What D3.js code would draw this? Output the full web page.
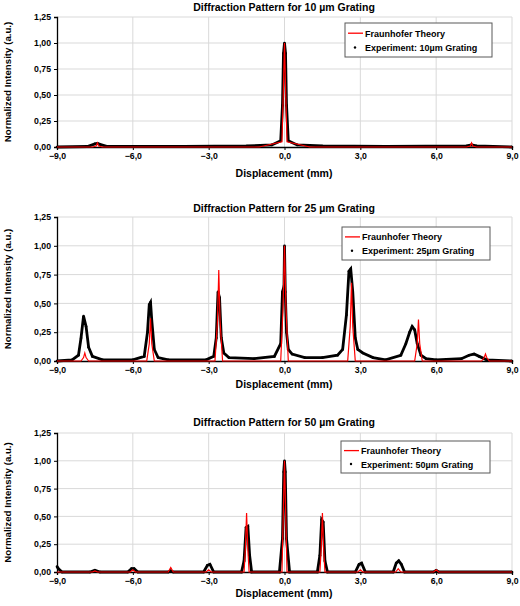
<!DOCTYPE html>
<html><head><meta charset="utf-8">
<script src="https://cdn.jsdelivr.net/npm/d3@7"></script>
<style>body{margin:0;background:#fff}text{font-family:"Liberation Sans",Arial,sans-serif;font-weight:bold}</style>
</head><body><svg id="c" width="520" height="606"></svg>
<script>
const xTicks=[-9,-6,-3,0,3,6,9];
const yTicks=[0,0.25,0.5,0.75,1,1.25];
const titles=["Diffraction Pattern for 10 µm Grating","Diffraction Pattern for 25 µm Grating","Diffraction Pattern for 50 µm Grating"];
const expLabels=["Experiment: 10µm Grating","Experiment: 25µm Grating","Experiment: 50µm Grating"];

const theory10X=[-9,-7.6,-7.45,-7.4,-7.35,-7.2,-1,-0.1,-0.05,0,0.05,0.1,1,7.2,7.35,7.4,7.45,7.6,9];
const theory10Y=[0,0,0.01,0.04,0.01,0,0,0.05,0.5,1,0.5,0.05,0,0,0.01,0.04,0.01,0,0];
const exp10X=[-9,-7.8,-7.5,-7.4,-7.3,-7,-4,-1.5,-0.5,-0.15,-0.08,-0.04,0,0.04,0.08,0.15,0.5,1.5,4,7.2,7.4,7.6,9];
const exp10Y=[0,0.005,0.03,0.035,0.025,0.005,0.005,0.01,0.02,0.06,0.4,0.9,1,0.9,0.4,0.06,0.02,0.01,0.005,0.01,0.02,0.01,0];

const theory25X=[-9,-8.05,-7.95,-7.9,-7.85,-7.75,-5.45,-5.35,-5.3,-5.25,-5.15,-2.75,-2.65,-2.6,-2.55,-2.45,-0.15,-0.06,0,0.06,0.15,2.5,2.6,2.65,2.7,2.8,5.15,5.25,5.3,5.35,5.45,7.8,7.9,7.95,8,8.1,9];
const theory25Y=[0,0,0.03,0.07,0.03,0,0,0.15,0.37,0.15,0,0,0.35,0.79,0.35,0,0,0.45,1,0.45,0,0,0.3,0.68,0.3,0,0,0.15,0.36,0.15,0,0,0.03,0.06,0.03,0,0];
const exp25X=[-9,-8.4,-8.15,-8.05,-7.95,-7.85,-7.75,-7.6,-7.2,-6,-5.55,-5.42,-5.35,-5.3,-5.25,-5.15,-5,-4.6,-3.1,-2.8,-2.7,-2.63,-2.57,-2.5,-2.4,-2.2,-1.2,-0.4,-0.15,-0.08,-0.02,0,0.03,0.08,0.15,0.3,0.8,1.5,2.1,2.3,2.45,2.55,2.62,2.7,2.8,2.9,3.1,3.5,4,4.6,4.8,4.95,5.05,5.15,5.25,5.4,5.6,6,7,7.3,7.5,7.7,8,9];
const exp25Y=[0,0.01,0.05,0.2,0.39,0.3,0.12,0.04,0.01,0.01,0.04,0.25,0.49,0.51,0.35,0.1,0.03,0.01,0.01,0.04,0.2,0.6,0.55,0.2,0.07,0.03,0.02,0.04,0.15,0.6,0.65,1,0.6,0.25,0.1,0.06,0.03,0.03,0.05,0.1,0.4,0.78,0.8,0.6,0.2,0.1,0.07,0.03,0.01,0.05,0.15,0.25,0.3,0.27,0.15,0.05,0.02,0.01,0.02,0.05,0.06,0.04,0.01,0];

const theory50X=[-9,-7.6,-7.5,-7.4,-6.1,-6,-5.9,-4.6,-4.5,-4.4,-3.1,-3,-2.9,-1.6,-1.55,-1.5,-1.45,-1.4,-0.1,-0.05,0,0.05,0.1,1.4,1.45,1.5,1.55,1.6,2.9,3,3.1,4.4,4.5,4.6,5.9,6,6.1,9];
const theory50Y=[0,0,0.01,0,0,0.02,0,0,0.04,0,0,0.02,0,0,0.2,0.53,0.2,0,0,0.5,1,0.5,0,0,0.2,0.53,0.2,0,0,0.02,0,0,0.03,0,0,0.02,0,0];
const exp50X=[-9,-8.95,-8.8,-7.7,-7.5,-7.3,-6.2,-6.05,-5.95,-5.8,-4.6,-4.5,-4.4,-3.2,-3.05,-2.95,-2.8,-1.7,-1.6,-1.52,-1.45,-1.38,-1.3,-0.2,-0.08,-0.03,0,0.03,0.08,0.2,1.3,1.4,1.47,1.53,1.6,1.7,2.8,2.95,3.05,3.2,4.3,4.42,4.52,4.62,4.75,5.9,6,6.1,9];
const exp50Y=[0.05,0.03,0,0,0.015,0,0,0.03,0.03,0,0,0.01,0,0,0.06,0.07,0,0,0.1,0.4,0.41,0.15,0,0,0.3,0.9,1,0.9,0.3,0,0,0.15,0.47,0.45,0.1,0,0,0.07,0.08,0,0,0.08,0.1,0.07,0,0,0.015,0,0];

const charts=[
 {tx:theory10X,ty:theory10Y,ex:exp10X,ey:exp10Y,top:17,bot:147,title:6,xl:173,leg:[345,23,147,34]},
 {tx:theory25X,ty:theory25Y,ex:exp25X,ey:exp25Y,top:217,bot:361,title:207,xl:384,leg:[342,227,148,33]},
 {tx:theory50X,ty:theory50Y,ex:exp50X,ey:exp50Y,top:433,bot:572,title:421,xl:593,leg:[341,441,149,32]}
];
const svg=d3.select("#c");
const fmtX=d=>(d<0?"\u2212":"")+Math.abs(d).toFixed(1).replace(".",",");
const fmtY=d=>d.toFixed(2).replace(".",",");
charts.forEach((c,i)=>{
 const x=d3.scaleLinear().domain([-9,9]).range([57,512]);
 const y=d3.scaleLinear().domain([0,1.25]).range([c.bot,c.top]);
 const g=svg.append("g");
 g.selectAll(".vg").data(xTicks.slice(1)).join("line").attr("x1",d=>x(d)).attr("x2",d=>x(d)).attr("y1",c.top).attr("y2",c.bot).attr("stroke","#d9d9d9");
 g.selectAll(".hg").data(yTicks.slice(1)).join("line").attr("x1",57).attr("x2",512).attr("y1",d=>y(d)).attr("y2",d=>y(d)).attr("stroke","#d9d9d9");
 const xa=g.append("g").attr("transform",`translate(0,${c.bot})`).call(d3.axisBottom(x).tickValues(xTicks).tickFormat(fmtX).tickSize(3));
 const ya=g.append("g").attr("transform","translate(57,0)").call(d3.axisLeft(y).tickValues(yTicks).tickFormat(fmtY).tickSize(3));
 [xa,ya].forEach(a=>{a.selectAll("text").attr("font-size",8.7).attr("fill","#000");a.select(".domain").attr("stroke","#000").attr("stroke-width",1.3);a.selectAll(".tick line").attr("stroke","#000");});
 const ln=(xs,ys)=>d3.line().x(j=>x(xs[j])).y(j=>y(ys[j]))(d3.range(xs.length));
 g.append("path").attr("d",ln(c.ex,c.ey)).attr("fill","none").attr("stroke","#000").attr("stroke-width",2.8);
 g.selectAll(".dot").data(d3.range(c.ex.length)).join("circle").attr("cx",j=>x(c.ex[j])).attr("cy",j=>y(c.ey[j])).attr("r",1.3).attr("fill","#000");
 g.append("path").attr("d",ln(c.tx,c.ty)).attr("fill","none").attr("stroke","#ff0000").attr("stroke-width",1.2);
 g.append("text").attr("x",284).attr("y",c.title+5).attr("text-anchor","middle").attr("font-size",10.5).text(titles[i]);
 g.append("text").attr("x",284).attr("y",c.xl+4).attr("text-anchor","middle").attr("font-size",10.5).text("Displacement (mm)");
 g.append("text").attr("transform",`translate(11,${(c.top+c.bot)/2}) rotate(-90)`).attr("text-anchor","middle").attr("font-size",9.7).text("Normalized Intensity (a.u.)");
 const [lx,ly,lw,lh]=c.leg;
 g.append("rect").attr("x",lx).attr("y",ly).attr("width",lw).attr("height",lh).attr("fill","#fff").attr("stroke","#595959");
 g.append("line").attr("x1",lx+3).attr("x2",lx+18).attr("y1",ly+lh*0.3).attr("y2",ly+lh*0.3).attr("stroke","#ff0000").attr("stroke-width",1.3);
 g.append("text").attr("x",lx+20).attr("y",ly+lh*0.3+3.5).attr("font-size",9).text("Fraunhofer Theory");
 g.append("circle").attr("cx",lx+10).attr("cy",ly+lh*0.72).attr("r",1.2).attr("fill","#000");
 g.append("text").attr("x",lx+20).attr("y",ly+lh*0.72+3.5).attr("font-size",9).text(expLabels[i]);
});
</script></body></html>
